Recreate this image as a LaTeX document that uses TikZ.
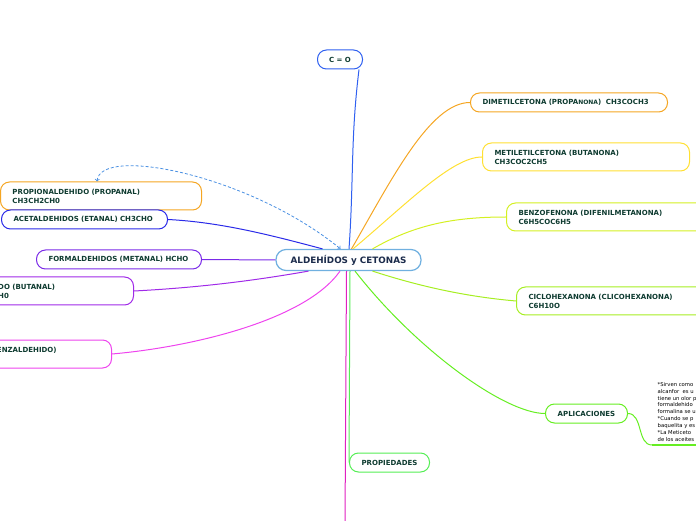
\documentclass[tikz,border=0pt]{standalone}
\usepackage{fontspec}
\setmainfont{DejaVu Sans}
\usetikzlibrary{arrows,positioning}
\definecolor{txt}{HTML}{0E3B30}
\definecolor{navy}{HTML}{1B2B4B}
\definecolor{mainc}{HTML}{70B0E0}
\definecolor{cblue}{HTML}{2F60F0}
\definecolor{orng}{HTML}{F5A623}
\definecolor{yel}{HTML}{FFE033}
\definecolor{ygreen}{HTML}{D4F022}
\definecolor{lgreen}{HTML}{A6EE22}
\definecolor{agreen}{HTML}{66EE22}
\definecolor{pgreen}{HTML}{55EE55}
\definecolor{indigo}{HTML}{2A2AE8}
\definecolor{violet}{HTML}{7A2AE8}
\definecolor{purp}{HTML}{A02AE8}
\definecolor{magen}{HTML}{EE44EE}
\definecolor{pinkl}{HTML}{E020C0}
\definecolor{dashc}{HTML}{4A90E2}
\newcommand{\ALDCET}{ALDEHÍDOS y CETONAS}
\newcommand{\PROPANONA}{DIMETILCETONA (PROPA{\fontsize{6}{9}\selectfont NONA})\ \ CH3COCH3}

\begin{document}
\begin{tikzpicture}[x=1pt,y=1pt,>=to,
    topic/.style={draw, fill=white, rounded corners=9pt, line width=1pt, text=txt,
      font=\bfseries\fontsize{7}{9}\selectfont, align=left, inner xsep=12pt,
      inner ysep=2pt, minimum height=19pt},
    twoline/.style={topic, minimum height=28pt},
    branch/.style={line width=1pt}]
      \useasboundingbox (0,0) rectangle (696,520);
      \clip (0,0) rectangle (696,520);

      \node (main) [draw=mainc, fill=white, rounded corners=10pt, line width=1.2pt,
        text=navy, font=\bfseries\fontsize{8.8}{10}\selectfont,
        minimum width=145pt, minimum height=21pt] at (348.5,260) {\ALDCET};
      \node (co)       [topic, draw=cblue, align=center, text width=27pt, inner xsep=9pt, anchor=west] at (317,460.5) {C = O};
      \node (dimetil)  [topic, draw=orng, text width=173pt, anchor=west]    at (470,417.5) {\PROPANONA};
      \node (metil)    [twoline, draw=yel, text width=183pt, anchor=west]   at (482,363)   {METILETILCETONA (BUTANONA)\\CH3COC2CH5};
      \node (benzo)    [twoline, draw=ygreen, text width=176pt, anchor=west] at (506,303)  {BENZOFENONA (DIFENILMETANONA)\\C6H5COC6H5};
      \node (ciclo)    [twoline, draw=lgreen, text width=176pt, anchor=west] at (516,219)  {CICLOHEXANONA (CLICOHEXANONA)\\C6H10O};
      \node (aplic)    [topic, draw=agreen, align=center, text width=58pt, anchor=west] at (545,106.5) {APLICACIONES};
      \node (prop)     [topic, draw=pgreen, align=center, text width=56pt, anchor=west] at (349,57.5)  {PROPIEDADES};
      \node (propanal) [twoline, draw=orng, text width=177pt, anchor=west]  at (0,324)     {PROPIONALDEHIDO (PROPANAL)\\CH3CH2CH0};
      \node (etanal)   [topic, draw=indigo, text width=142pt, anchor=west]  at (1,300.5)   {ACETALDEHIDOS (ETANAL) CH3CHO};
      \node (metanal)  [topic, draw=violet, text width=141pt, anchor=west]  at (36,260.5)  {FORMALDEHIDOS (METANAL) HCHO};
      \node (butanal)  [twoline, draw=purp, text width=176pt, anchor=east]  at (134,229)   {BUTIRALDEHIDO (BUTANAL)\\CH3CH2CH2CH0};
      \node (benzald)  [twoline, draw=magen, text width=173pt, anchor=east] at (112,166)   {FENILMETANAL (BENZALDEHIDO)\\C6H5CHO};
      \node (usos)     [anchor=north west, inner sep=0pt, align=left, text=black,
        font=\fontsize{5.3}{6.9}\selectfont] at (657.5,138)
        {*Sirven como\\alcanfor\ \ es u\\tiene un olor p\\formaldehido\\formalina se u\\*Cuando se p\\baquelita y es\\*La Meticeto\\de los aceites};
      \coordinate (usobase) at (652,75);
      \coordinate (usoend)  at (700,75);
      \coordinate (offpage) at (345,-4);

      \path[branch] ([xshift=0.5pt]main.north) edge [color=cblue, out=86, in=-97] ([xshift=-4pt]co.south east);
      \path[branch] ([xshift=3pt]main.north)   edge [color=orng, out=60, in=180, out distance=80pt, in distance=40pt] (dimetil.west)
                    ([xshift=4.5pt]main.north) edge [color=yel, out=40, in=180, out distance=70pt, in distance=30pt] (metil.west)
                    ([xshift=24pt]main.north)  edge [color=ygreen, out=30, in=180, out distance=50pt, in distance=50pt] (benzo.west);
      \path[branch] ([xshift=24pt]main.south)  edge [color=lgreen, out=-18, in=175, out distance=50pt, in distance=50pt] (ciclo.west)
                    ([xshift=6.5pt]main.south) edge [color=agreen, out=-52, in=180, out distance=100pt, in distance=40pt] (aplic.west)
                    ([xshift=1.5pt]main.south) edge [color=pgreen] (prop.west)
                    ([xshift=-2pt]main.south)  edge [color=pinkl] (offpage);
      \path[branch] ([xshift=-8.5pt]main.south) edge [color=magen, out=-125, in=5, out distance=60pt, in distance=80pt] (benzald.east)
                    ([xshift=-40pt]main.south) edge [color=purp, out=-170, in=3, out distance=60pt, in distance=60pt] (butanal.east)
                    (main.west)                edge [color=violet] (metanal.east);
      \path[branch] (etanal.east) edge [color=indigo, out=-3, in=165, out distance=50pt, in distance=60pt] ([xshift=-26pt]main.north);
      \path[branch] (aplic.east)  edge [color=agreen, out=0, in=180, out distance=15pt, in distance=15pt] (usobase);
      \draw[agreen, line width=1.5pt] (usobase) -- (usoend);
      \draw[<->, dashc, line width=0.8pt, dash pattern=on 3pt off 2pt]
        ([xshift=-4pt]propanal.north) .. controls (100,375) and (250,345) .. ([xshift=-8pt]main.north);
    \end{tikzpicture}
\end{document}
